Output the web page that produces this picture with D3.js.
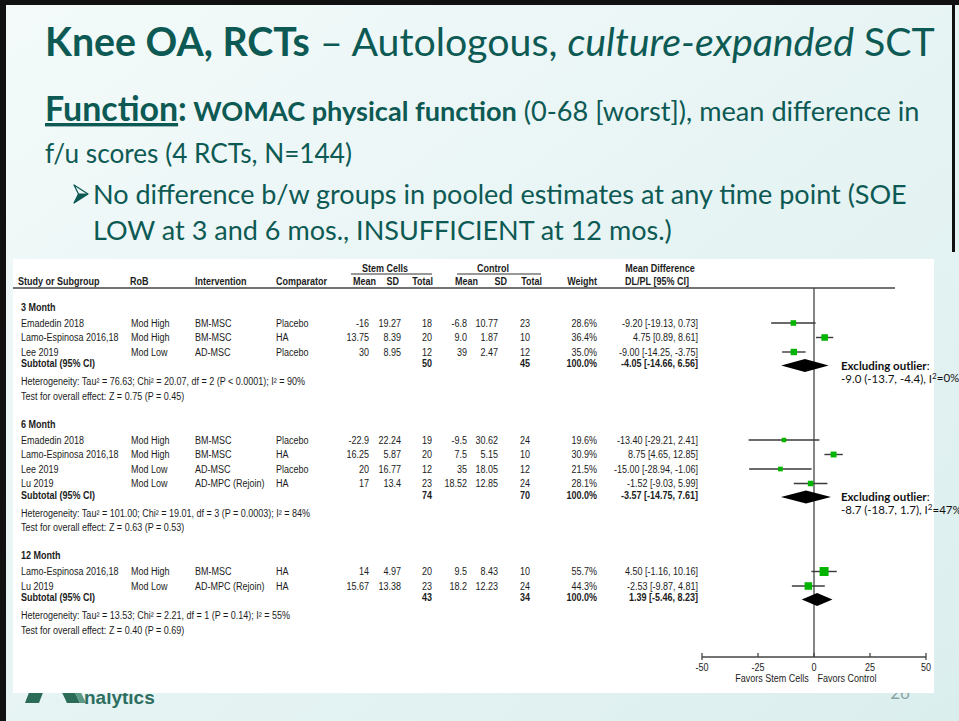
<!DOCTYPE html>
<html>
<head>
<meta charset="utf-8">
<script src="https://cdn.jsdelivr.net/npm/d3@7"></script>
<style>
  html, body { margin: 0; padding: 0; overflow: hidden; background: #fff; }
  svg { display: block; }
</style>
</head>
<body>
<svg id="slide" width="959" height="721"></svg>
<script>
// ---------- study-level data ----------
const groups = ["3 Month", "6 Month", "12 Month"];
const studyGroup = [0, 0, 0, 1, 1, 1, 1, 2, 2];
const studies = ["Emadedin 2018", "Lamo-Espinosa 2016,18", "Lee 2019",
  "Emadedin 2018", "Lamo-Espinosa 2016,18", "Lee 2019", "Lu 2019",
  "Lamo-Espinosa 2016,18", "Lu 2019"];
const rob = ["Mod High", "Mod High", "Mod Low", "Mod High", "Mod High", "Mod Low", "Mod Low", "Mod High", "Mod Low"];
const intervention = ["BM-MSC", "BM-MSC", "AD-MSC", "BM-MSC", "BM-MSC", "AD-MSC", "AD-MPC (Rejoin)", "BM-MSC", "AD-MPC (Rejoin)"];
const comparator = ["Placebo", "HA", "Placebo", "Placebo", "HA", "Placebo", "HA", "HA", "HA"];
const scMean = ["-16", "13.75", "30", "-22.9", "16.25", "20", "17", "14", "15.67"];
const scSD = ["19.27", "8.39", "8.95", "22.24", "5.87", "16.77", "13.4", "4.97", "13.38"];
const scN = [18, 20, 12, 19, 20, 12, 23, 20, 23];
const ctMean = ["-6.8", "9.0", "39", "-9.5", "7.5", "35", "18.52", "9.5", "18.2"];
const ctSD = ["10.77", "1.87", "2.47", "30.62", "5.15", "18.05", "12.85", "8.43", "12.23"];
const ctN = [23, 10, 12, 24, 10, 12, 24, 10, 24];
const weight = [28.6, 36.4, 35.0, 19.6, 30.9, 21.5, 28.1, 55.7, 44.3];
const md = [-9.20, 4.75, -9.00, -13.40, 8.75, -15.00, -1.52, 4.50, -2.53];
const ciLow = [-19.13, 0.89, -14.25, -29.21, 4.65, -28.94, -9.03, -1.16, -9.87];
const ciHigh = [0.73, 8.61, -3.75, 2.41, 12.85, -1.06, 5.99, 10.16, 4.81];

// ---------- pooled (subgroup) data ----------
const subScN = [50, 74, 43];
const subCtN = [45, 70, 34];
const subMd = [-4.05, -3.57, 1.39];
const subLow = [-14.66, -14.75, -5.46];
const subHigh = [6.56, 7.61, 8.23];
const tau2 = ["76.63", "101.00", "13.53"];
const chi2 = ["20.07", "19.01", "2.21"];
const dfHet = [2, 3, 1];
const pHet = ["P < 0.0001", "P = 0.0003", "P = 0.14"];
const i2 = [90, 84, 55];
const zVal = ["0.75", "0.63", "0.40"];
const pZ = ["0.45", "0.53", "0.69"];

// sensitivity estimates without the outlying study (3 and 6 months)
const exclMd = [-9.0, -8.7];
const exclLow = [-13.7, -18.7];
const exclHigh = [-4.4, 1.7];
const exclI2 = [0, 47];

const axisTicks = [-50, -25, 0, 25, 50];
const axisLabels = ["Favors Stem Cells", "Favors Control"];

// ---------- drawing ----------
const svg = d3.select("#slide");
const TEAL = "#0d5a54";
const SLIDE_FONT = "Lato, 'Open Sans', sans-serif";
const TABLE_FONT = "'Liberation Sans', Arial, sans-serif";

// slide background
const defs = svg.append("defs");
const grad = defs.append("linearGradient").attr("id", "bg")
  .attr("x1", 0).attr("y1", 0).attr("x2", 1).attr("y2", 1);
grad.append("stop").attr("offset", 0).attr("stop-color", "#f4fafa");
grad.append("stop").attr("offset", 1).attr("stop-color", "#dbeeee");
svg.append("rect").attr("width", 959).attr("height", 721).attr("fill", "url(#bg)");

// frame
svg.append("rect").attr("x", 0).attr("y", 0).attr("width", 959).attr("height", 5).attr("fill", "#111");
svg.append("rect").attr("x", 0).attr("y", 0).attr("width", 6).attr("height", 721).attr("fill", "#111");
svg.append("rect").attr("x", 952).attr("y", 0).attr("width", 3).attr("height", 252).attr("fill", "#111");

// scale a text element's font so it spans the given width
function fit(sel, target) {
  const w = sel.node().getBBox().width;
  const fs = parseFloat(sel.attr("font-size"));
  sel.attr("font-size", fs * target / w);
}

// title
const title = svg.append("text").attr("x", 45).attr("y", 56)
  .attr("font-family", SLIDE_FONT).attr("font-size", 34).attr("fill", TEAL);
title.append("tspan").attr("font-weight", 700).text("Knee OA, RCTs");
title.append("tspan").text(" \u2013 Autologous, ");
title.append("tspan").attr("font-style", "italic").text("culture-expanded");
title.append("tspan").text(" SCT");
fit(title, 890);

// outcome description
const l2 = svg.append("text").attr("x", 45).attr("y", 121)
  .attr("font-family", SLIDE_FONT).attr("font-size", 23).attr("fill", TEAL);
l2.append("tspan").attr("font-weight", 700).attr("font-size", "1.25em")
  .attr("text-decoration", "underline").text("Function");
l2.append("tspan").attr("font-weight", 700).attr("font-size", "1.25em").text(":");
l2.append("tspan").attr("font-weight", 700).text(" WOMAC physical function");
l2.append("tspan").text(" (0-68 [worst]), mean difference in");
fit(l2, 875);

const l3 = svg.append("text").attr("x", 45).attr("y", 163)
  .attr("font-family", SLIDE_FONT).attr("font-size", 23).attr("fill", TEAL)
  .text("f/u scores (4 RCTs, N=144)");
fit(l3, 307);

// arrowhead bullet
const bullet = svg.append("g").attr("fill", "none").attr("stroke", TEAL)
  .attr("stroke-width", 1.3).attr("stroke-linejoin", "round");
bullet.append("path").attr("d", "M74,185 L88,194 L74,203 L78.5,194 Z");
bullet.append("path").attr("d", "M78.5,194 L88,194").attr("stroke-width", 1);
bullet.append("path").attr("d", "M74,203 L78.5,194 L88,194 Z").attr("fill", TEAL).attr("stroke", "none");

const b1 = svg.append("text").attr("x", 93).attr("y", 204)
  .attr("font-family", SLIDE_FONT).attr("font-size", 23).attr("fill", TEAL)
  .text("No difference b/w groups in pooled estimates at any time point (SOE");
fit(b1, 814);
svg.append("text").attr("x", 93).attr("y", 240)
  .attr("font-family", SLIDE_FONT).attr("font-size", b1.attr("font-size")).attr("fill", TEAL)
  .text("LOW at 3 and 6 mos., INSUFFICIENT at 12 mos.)");

// footer logo and slide number (partly hidden behind the figure panel)
const logo = svg.append("g");
logo.append("path").attr("d", "M33,682 L47,682 L39,703 L25,703 Z").attr("fill", "#2c6b58");
logo.append("path").attr("d", "M57,682 L70,682 L80,703 L67,703 Z").attr("fill", "#2c6b58");
logo.append("path").attr("d", "M70,682 L76,682 L86,703 L80,703 Z").attr("fill", "#5b9a86");
logo.append("text").attr("x", 84).attr("y", 704)
  .attr("font-family", "'Liberation Sans', Arial, sans-serif").attr("font-weight", 700)
  .attr("font-size", 19).attr("fill", "#2d6e60").text("nalytics");
svg.append("text").attr("x", 900).attr("y", 699).attr("text-anchor", "middle")
  .attr("font-family", SLIDE_FONT).attr("font-size", 17).attr("fill", "#8aa6a6").text("26");

// figure panel
svg.append("rect").attr("x", 13).attr("y", 259).attr("width", 921).attr("height", 434).attr("fill", "#fff");

const fig = svg.append("g").attr("font-family", TABLE_FONT).attr("font-size", 10).attr("fill", "#1c1c1c");

// column positions
const col = {
  study: 21, rob: 131, interv: 195, comp: 276,
  scMean: 369, scSD: 401, scN: 432,
  ctMean: 467, ctSD: 498, ctN: 530,
  weight: 597, ci: 698
};

function txt(x, y, s, opts = {}) {
  return fig.append("text").attr("class", "n")
    .attr("x", x).attr("y", y).attr("dy", "0.35em")
    .attr("text-anchor", opts.anchor || "start")
    .attr("font-weight", opts.bold ? 700 : 400)
    .text(s);
}

// header
txt(385, 268, "Stem Cells", { anchor: "middle", bold: true });
txt(493, 268, "Control", { anchor: "middle", bold: true });
txt(660, 268, "Mean Difference", { anchor: "middle", bold: true });
fig.append("line").attr("x1", 351).attr("x2", 432).attr("y1", 274).attr("y2", 274).attr("stroke", "#333").attr("stroke-width", 1);
fig.append("line").attr("x1", 457).attr("x2", 541).attr("y1", 274).attr("y2", 274).attr("stroke", "#333").attr("stroke-width", 1);
const hy = 281.5;
txt(18, hy, "Study or Subgroup", { bold: true });
txt(130, hy, "RoB", { bold: true });
txt(195, hy, "Intervention", { bold: true });
txt(276, hy, "Comparator", { bold: true });
txt(376, hy, "Mean", { anchor: "end", bold: true });
txt(399, hy, "SD", { anchor: "end", bold: true });
txt(433, hy, "Total", { anchor: "end", bold: true });
txt(478, hy, "Mean", { anchor: "end", bold: true });
txt(507, hy, "SD", { anchor: "end", bold: true });
txt(542, hy, "Total", { anchor: "end", bold: true });
txt(597, hy, "Weight", { anchor: "end", bold: true });
txt(657, hy, "DL/PL [95% CI]", { anchor: "middle", bold: true });

const topRule = 288;
fig.append("line").attr("x1", 13).attr("x2", 895).attr("y1", topRule).attr("y2", topRule)
  .attr("stroke", "#444").attr("stroke-width", 1.3);

// forest scales
const x = d3.scaleLinear().domain([-50, 50]).range([702, 926]);
const boxSide = d3.scaleLinear().domain([0, 60]).range([2, 9.5]);
const fmt2 = v => v.toFixed(2);
const ciLabel = (m, lo, hi) => `${fmt2(m)} [${fmt2(lo)}, ${fmt2(hi)}]`;

// row layout
const rows = [];
let y = 307;
groups.forEach((g, gi) => {
  rows.push({ type: "group", gi, y });
  y += 16;
  const idx = studies.map((_, i) => i).filter(i => studyGroup[i] === gi);
  idx.forEach((si, k) => {
    rows.push({ type: "study", si, y });
    if (k < idx.length - 1) y += 14.5;
  });
  y += 13.5;
  rows.push({ type: "subtotal", gi, y });
  y += 16;
  rows.push({ type: "het", gi, y });
  y += 14.5;
  rows.push({ type: "test", gi, y });
  y += 28;
});

const axisY = 657;
// line of no effect
fig.append("line").attr("x1", x(0)).attr("x2", x(0)).attr("y1", topRule).attr("y2", axisY)
  .attr("stroke", "#444").attr("stroke-width", 1.3);

rows.forEach(r => {
  if (r.type === "group") {
    txt(col.study, r.y, groups[r.gi], { bold: true });
  } else if (r.type === "study") {
    const i = r.si;
    txt(col.study, r.y, studies[i]);
    txt(col.rob, r.y, rob[i]);
    txt(col.interv, r.y, intervention[i]);
    txt(col.comp, r.y, comparator[i]);
    txt(col.scMean, r.y, scMean[i], { anchor: "end" });
    txt(col.scSD, r.y, scSD[i], { anchor: "end" });
    txt(col.scN, r.y, scN[i], { anchor: "end" });
    txt(col.ctMean, r.y, ctMean[i], { anchor: "end" });
    txt(col.ctSD, r.y, ctSD[i], { anchor: "end" });
    txt(col.ctN, r.y, ctN[i], { anchor: "end" });
    txt(col.weight, r.y, weight[i].toFixed(1) + "%", { anchor: "end" });
    txt(col.ci, r.y, ciLabel(md[i], ciLow[i], ciHigh[i]), { anchor: "end" });
    // study estimate: CI whisker and weighted square
    fig.append("line").attr("x1", x(ciLow[i])).attr("x2", x(ciHigh[i]))
      .attr("y1", r.y).attr("y2", r.y).attr("stroke", "#3a3a3a").attr("stroke-width", 1.4);
    const s = boxSide(weight[i]);
    fig.append("rect").attr("x", x(md[i]) - s / 2).attr("y", r.y - s / 2)
      .attr("width", s).attr("height", s).attr("fill", "#00b400");
  } else if (r.type === "subtotal") {
    const g = r.gi;
    txt(col.study, r.y - 2, "Subtotal (95% CI)", { bold: true });
    txt(col.scN, r.y - 2, subScN[g], { anchor: "end", bold: true });
    txt(col.ctN, r.y - 2, subCtN[g], { anchor: "end", bold: true });
    txt(col.weight, r.y - 2, "100.0%", { anchor: "end", bold: true });
    txt(col.ci, r.y - 2, ciLabel(subMd[g], subLow[g], subHigh[g]), { anchor: "end", bold: true });
    const h = 6.5;
    fig.append("path")
      .attr("d", `M${x(subLow[g])},${r.y} L${x(subMd[g])},${r.y - h} L${x(subHigh[g])},${r.y} L${x(subMd[g])},${r.y + h} Z`)
      .attr("fill", "#000");
    if (g < exclMd.length) {
      const a = svg.append("text").attr("x", 841).attr("y", r.y).attr("dy", "0.35em")
        .attr("font-family", SLIDE_FONT).attr("font-size", 11.5).attr("fill", "#111");
      a.append("tspan").attr("font-weight", 700).text("Excluding outlier");
      a.append("tspan").text(":");
      const b = svg.append("text").attr("x", 841).attr("y", r.y + 13).attr("dy", "0.35em")
        .attr("font-family", SLIDE_FONT).attr("font-size", 11.5).attr("fill", "#111");
      b.append("tspan").text(`${exclMd[g].toFixed(1)} (${exclLow[g].toFixed(1)}, ${exclHigh[g].toFixed(1)}), I`);
      b.append("tspan").attr("font-size", "0.7em").attr("dy", "-0.45em").text("2");
      b.append("tspan").attr("dy", "0.3em").text(`=${exclI2[g]}%`);
    }
  } else if (r.type === "het") {
    const g = r.gi;
    txt(col.study, r.y, `Heterogeneity: Tau\u00B2 = ${tau2[g]}; Chi\u00B2 = ${chi2[g]}, df = ${dfHet[g]} (${pHet[g]}); I\u00B2 = ${i2[g]}%`);
  } else if (r.type === "test") {
    const g = r.gi;
    txt(col.study, r.y, `Test for overall effect: Z = ${zVal[g]} (P = ${pZ[g]})`);
  }
});

// effect axis
fig.append("line").attr("x1", x(-50)).attr("x2", x(50)).attr("y1", axisY).attr("y2", axisY)
  .attr("stroke", "#444").attr("stroke-width", 1.3);
axisTicks.forEach((t, k) => {
  const end = k === 0 || k === axisTicks.length - 1;
  fig.append("line").attr("x1", x(t)).attr("x2", x(t))
    .attr("y1", axisY - 4).attr("y2", axisY + (end ? 3 : 0))
    .attr("stroke", "#444").attr("stroke-width", 1.3);
  txt(x(t), axisY + 10, String(t), { anchor: "middle" });
});
txt(772, axisY + 21, axisLabels[0], { anchor: "middle" });
txt(847, axisY + 21, axisLabels[1], { anchor: "middle" });

// narrow the table lettering
fig.selectAll("text.n").each(function () {
  const w = this.getComputedTextLength();
  this.setAttribute("textLength", (w * 0.9).toFixed(2));
  this.setAttribute("lengthAdjust", "spacingAndGlyphs");
});
</script>
</body>
</html>
